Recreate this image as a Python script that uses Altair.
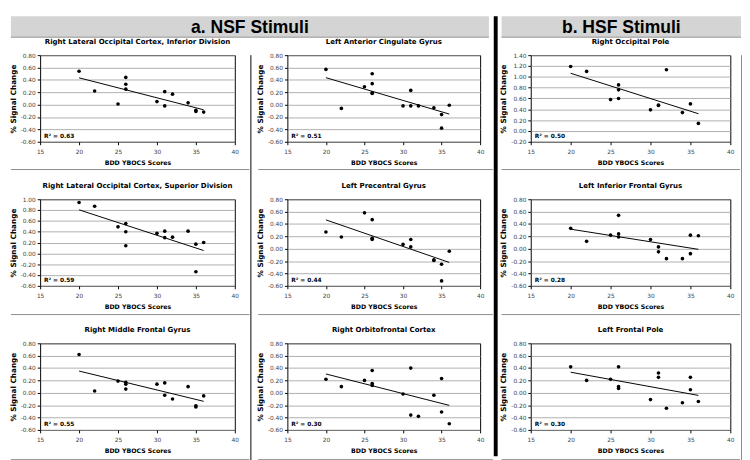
import altair as alt
import pandas as pd

# ---------------- data ----------------
TITLES = [
    "Right Lateral Occipital Cortex, Inferior Division",
    "Left Anterior Cingulate Gyrus",
    "Right Occipital Pole",
    "Right Lateral Occipital Cortex, Superior Division",
    "Left Precentral Gyrus",
    "Left Inferior Frontal Gyrus",
    "Right Middle Frontal Gyrus",
    "Right Orbitofrontal Cortex",
    "Left Frontal Pole",
]
R2 = ["0.63", "0.51", "0.50", "0.59", "0.44", "0.28", "0.55", "0.30", "0.30"]

X1 = [20, 22, 25, 26, 26, 26, 30, 31, 31, 32, 34, 35, 35, 36]
Y1 = [0.54, 0.22, 0.01, 0.44, 0.33, 0.25, 0.05, 0.21, -0.02, 0.17, 0.03, -0.09, -0.11, -0.12]
X2 = [20, 22, 25, 26, 26, 26, 26, 30, 31, 31, 32, 34, 35, 35, 36]
Y2 = [0.57, -0.06, 0.29, 0.50, 0.34, 0.19, 0.18, -0.02, 0.23, -0.02, -0.02, -0.05, -0.16, -0.38, -0.01]
X3 = [20, 22, 25, 26, 26, 26, 30, 31, 31, 32, 34, 35, 36]
Y3 = [1.19, 1.10, 0.58, 0.85, 0.76, 0.60, 0.39, 0.48, 0.47, 1.13, 0.34, 0.50, 0.14]
X4 = [20, 22, 25, 26, 26, 26, 30, 31, 31, 32, 34, 35, 35, 36]
Y4 = [0.94, 0.87, 0.49, 0.55, 0.40, 0.14, 0.37, 0.41, 0.29, 0.30, 0.41, 0.17, -0.34, 0.20]
X5 = [20, 22, 25, 26, 26, 26, 30, 31, 31, 34, 34, 35, 35, 36]
Y5 = [0.27, 0.19, 0.58, 0.47, 0.17, 0.15, 0.07, 0.15, 0.03, -0.18, -0.19, -0.25, -0.52, -0.04]
X6 = [20, 22, 25, 26, 26, 26, 30, 31, 31, 32, 34, 35, 35, 36]
Y6 = [0.33, 0.12, 0.22, 0.54, 0.24, 0.19, 0.15, 0.03, -0.05, -0.16, -0.16, 0.22, -0.08, 0.21]
X7 = [20, 22, 25, 26, 26, 26, 30, 31, 31, 32, 34, 35, 35, 36]
Y7 = [0.62, 0.03, 0.19, 0.17, 0.14, 0.06, 0.14, 0.16, -0.04, -0.10, 0.10, -0.21, -0.23, -0.05]
X8 = [20, 22, 25, 26, 26, 26, 30, 31, 31, 32, 34, 35, 35, 36]
Y8 = [0.22, 0.10, 0.20, 0.36, 0.15, 0.12, -0.02, 0.40, -0.36, -0.38, -0.04, 0.23, -0.31, -0.50]
X9 = [20, 22, 25, 26, 26, 26, 30, 31, 31, 32, 34, 35, 35, 36]
Y9 = [0.42, 0.20, 0.22, 0.42, 0.10, 0.07, -0.11, 0.32, 0.25, -0.25, -0.16, 0.25, 0.05, -0.14]

X_TICKS = [15, 20, 25, 30, 35, 40]
Y_TICKS_A = [-0.6, -0.4, -0.2, 0.0, 0.2, 0.4, 0.6, 0.8]
Y_TICKS_B = [-0.2, 0.0, 0.2, 0.4, 0.6, 0.8, 1.0, 1.2, 1.4]
Y_TICKS_C = [-0.6, -0.4, -0.2, 0.0, 0.2, 0.4, 0.6, 0.8, 1.0]

XS = [X1, X2, X3, X4, X5, X6, X7, X8, X9]
YS = [Y1, Y2, Y3, Y4, Y5, Y6, Y7, Y8, Y9]
YT = [Y_TICKS_A, Y_TICKS_A, Y_TICKS_B, Y_TICKS_C, Y_TICKS_A, Y_TICKS_A, Y_TICKS_A, Y_TICKS_A, Y_TICKS_A]

HEADERS = ["a. NSF Stimuli", "b. HSF Stimuli"]

# ---------------- layout ----------------
FONT = "DejaVu Sans"
PH = 89      # plot height
LEFT = 30    # left extent of a panel (y title + labels)
ONE = pd.DataFrame({"k": [0]})


def panel(i, pw):
    df = pd.DataFrame({"x": XS[i], "y": YS[i]})
    ticks = YT[i]
    xenc = alt.X(
        "x:Q",
        scale=alt.Scale(domain=[15, 40], nice=False, zero=False),
        axis=alt.Axis(
            values=X_TICKS, tickCount=len(X_TICKS), grid=False, domain=False,
            labelFontSize=6, labelColor="#444", tickSize=3, tickColor="black",
            labelPadding=4, labelFlush=False, labelOverlap=False,
            title="BDD YBOCS Scores", titleFontSize=6.4, titleFontWeight="bold",
            titlePadding=5, titleColor="black",
        ),
    )
    yenc = alt.Y(
        "y:Q",
        scale=alt.Scale(domain=[ticks[0], ticks[-1]], nice=False, zero=False),
        axis=alt.Axis(
            values=ticks, tickCount=len(ticks), grid=True, gridColor="#9a9a9a",
            gridWidth=0.8, domain=False, labelOverlap=False,
            labelFontSize=6, labelColor="#444", tickSize=3, tickColor="black", labelPadding=2,
            labelExpr="replace(format(datum.value, '.2f'), '\u2212', '-')",
            title="% Signal Change", titleFontSize=7.5, titleFontWeight="bold",
            titlePadding=3, titleColor="black",
        ),
    )
    base = alt.Chart(df)
    pts = base.mark_circle(size=14, color="black", opacity=1).encode(x=xenc, y=yenc)
    line = base.transform_regression("x", "y").mark_line(color="black", strokeWidth=1).encode(
        x=alt.X("x:Q"), y=alt.Y("y:Q")
    )
    lab = alt.Chart(pd.DataFrame({"t": ["R\u00b2 = " + R2[i]]})).mark_text(
        font=FONT, fontSize=6, fontWeight="bold", color="black", align="left", baseline="middle"
    ).encode(text="t:N", x=alt.value(4), y=alt.value(PH - 6))
    return alt.layer(pts, line, lab).properties(
        width=pw, height=PH,
        title=alt.TitleParams(
            TITLES[i], fontSize=7.2, font=FONT, fontWeight="bold", offset=7,
            anchor="middle", frame="group", color="black",
        ),
        view=alt.ViewBackground(stroke="black", strokeWidth=1),
    )


def rule_chart(w, h, x1, y1, x2, y2, color, sw):
    return alt.Chart(ONE).mark_rule(color=color, strokeWidth=sw).encode(
        x=alt.value(x1), x2=alt.value(x2), y=alt.value(y1), y2=alt.value(y2)
    ).properties(width=w, height=h, view=alt.ViewBackground(strokeOpacity=0))


def hsep(cw, h, ly):
    # cw = full cell width measured from the column's left edge
    return rule_chart(cw - LEFT, h, -LEFT, ly + 0.5, cw - LEFT, ly + 0.5, "#8a8a8a", 1)


SEP1, SEP2, SEP3 = 16, 16, 7


def column(idx, pw, cw):
    return alt.vconcat(
        panel(idx[0], pw), hsep(cw, SEP1, 3),
        panel(idx[1], pw), hsep(cw, SEP2, 4),
        panel(idx[2], pw), hsep(cw, SEP3, 5),
        spacing=0,
    )


COL_H = 3 * 131 + SEP1 + SEP2 + SEP3 - 2
HEAD_H = 22
TOTAL_H = COL_H + HEAD_H


def header(text, w):
    x0, x1 = -LEFT, w - LEFT
    band = alt.Chart(ONE).mark_rect(color="#d4d4d4").encode(
        x=alt.value(x0), x2=alt.value(x1), y=alt.value(0), y2=alt.value(HEAD_H)
    )
    bottom = alt.Chart(ONE).mark_rule(color="#9a9a9a", strokeWidth=1).encode(
        x=alt.value(x0), x2=alt.value(x1), y=alt.value(HEAD_H - 0.5), y2=alt.value(HEAD_H - 0.5)
    )
    txt = alt.Chart(ONE).mark_text(
        font="Liberation Sans Narrow, Arial Narrow, Liberation Sans", fontSize=18,
        fontWeight="bold", color="black", align="center", baseline="middle"
    ).encode(x=alt.value(w / 2 - LEFT), y=alt.value(12.5), text=alt.value(text))
    return alt.layer(band, bottom, txt).properties(width=w - LEFT, height=HEAD_H,
                                                   view=alt.ViewBackground(strokeOpacity=0))


col1 = column([0, 3, 6], 200, 245)
col2 = column([1, 4, 7], 198, 241)
col3 = column([2, 5, 8], 205, 245)

bodyA = alt.hconcat(col1, rule_chart(5, COL_H, 0.5, 0, 0.5, COL_H, "black", 1), col2, spacing=0)
bodyB = alt.hconcat(col3, rule_chart(1, COL_H, 0.5, 0, 0.5, COL_H, "#8a8a8a", 1), spacing=0)
groupA = alt.vconcat(header(HEADERS[0], 491), bodyA, spacing=0)
groupB = alt.vconcat(header(HEADERS[1], 246), bodyB, spacing=0)
thick = rule_chart(5, TOTAL_H, 2, 0, 2, TOTAL_H, "black", 4)

chart = alt.hconcat(groupA, thick, groupB, spacing=0).properties(
    padding=0, background="white"
).configure_axis(labelFont=FONT, titleFont=FONT).configure_title(font=FONT)

chart.save("out.html", embed_options={"renderer": "svg", "actions": False})
